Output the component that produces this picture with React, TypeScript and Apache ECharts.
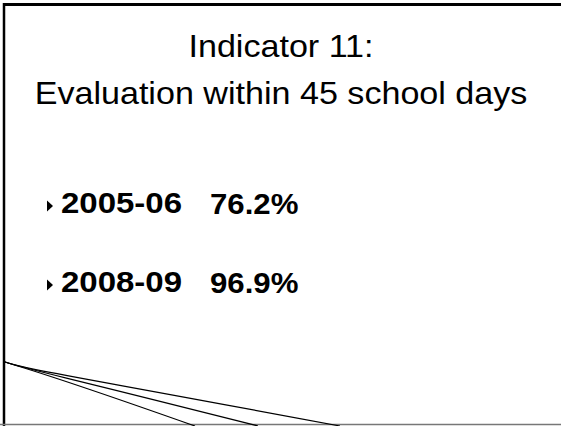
import React, { useEffect, useRef } from "react";
import * as echarts from "echarts";

const titleLines = ["Indicator 11:", "Evaluation within 45 school days"];
const years = ["2005-06", "2008-09"];
const values = ["76.2%", "96.9%"];
const swooshEnds = [195, 258, 340];

export default function App() {
  const ref = useRef<HTMLDivElement>(null);
  useEffect(() => {
    document.body.style.margin = "0";
    const chart = echarts.init(ref.current!, null, { renderer: "svg" });
    const graphic: any[] = [];
    const stretch = 1.1;
    // frame
    graphic.push({ type: "rect", shape: { x: 0, y: 0, width: 561, height: 426 }, style: { fill: "#ffffff" }, z: 0 });
    graphic.push({ type: "line", shape: { x1: 3, y1: 4.5, x2: 561, y2: 4.5 }, style: { stroke: "#000", lineWidth: 3 } });
    graphic.push({ type: "line", shape: { x1: 4, y1: 3, x2: 4, y2: 426 }, style: { stroke: "#000", lineWidth: 2.5 } });
    graphic.push({ type: "line", shape: { x1: 0, y1: 424.5, x2: 561, y2: 424.5 }, style: { stroke: "#777", lineWidth: 1.5 } });
    // title
    titleLines.forEach((t, i) => {
      graphic.push({
        type: "text",
        x: 281,
        y: 62 + i * 47,
        scaleX: stretch,
        style: { text: t, fill: "#000", font: "31px 'Liberation Sans', Arial, sans-serif", textAlign: "center", textVerticalAlign: "bottom" },
      });
    });
    // bullets
    years.forEach((yr, i) => {
      const by = 218 + i * 79;
      graphic.push({ type: "polygon", shape: { points: [[47, by - 17.5], [53, by - 12], [47, by - 6.5]] }, style: { fill: "#000" } });
      graphic.push({
        type: "text", x: 61, y: by, scaleX: stretch,
        style: { text: yr, fill: "#000", font: "bold 30px 'Liberation Sans', Arial, sans-serif", textVerticalAlign: "bottom" },
      });
      graphic.push({
        type: "text", x: 210, y: by, scaleX: 1.04,
        style: { text: values[i], fill: "#000", font: "bold 30px 'Liberation Sans', Arial, sans-serif", textVerticalAlign: "bottom" },
      });
    });
    // swooshes
    swooshEnds.forEach((ex, i) => {
      graphic.push({
        type: "bezierCurve",
        shape: { x1: 5, y1: 362, cpx1: 30, cpy1: 370, cpx2: 45, cpy2: 373 - i, x2: ex, y2: 426 },
        style: { stroke: "#000", lineWidth: 1.2, fill: "none" },
      });
    });
    chart.setOption({ animation: false, graphic });
    return () => chart.dispose();
  }, []);
  return <div ref={ref} style={{ width: 561, height: 426 }} />;
}
